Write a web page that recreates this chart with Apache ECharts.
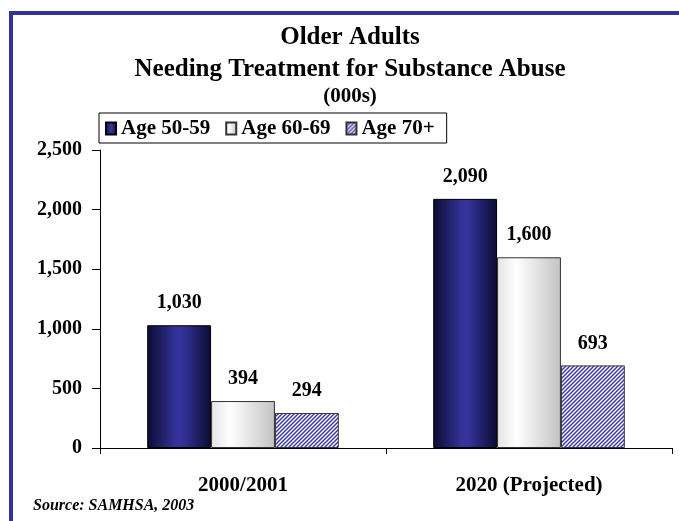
<!DOCTYPE html>
<html>
<head>
<meta charset="utf-8">
<script src="https://cdn.jsdelivr.net/npm/echarts@6/dist/echarts.min.js"></script>
<style>
  html, body { margin: 0; padding: 0; background: #fff; }
  #chart { width: 679px; height: 521px; }
</style>
</head>
<body>
<div id="chart"></div>
<script>
// Periods shown on the category axis
const periods = ['2000/2001', '2020 (Projected)'];
// Older adults needing treatment, in thousands
const age5059 = [1030, 2090];
const age6069 = [394, 1600];
const age70plus = [294, 693];
const seriesNames = ['Age 50-59', 'Age 60-69', 'Age 70+'];
const yTicks = [0, 500, 1000, 1500, 2000, 2500];
const titleLines = ['Older Adults', 'Needing Treatment for Substance Abuse', '(000s)'];

const serif = '"Liberation Serif", "Times New Roman", serif';

// Diagonal hatch fill for the oldest group
function hatchPattern() {
  const s = 4;
  const c = document.createElement('canvas');
  c.width = s; c.height = s;
  const g = c.getContext('2d');
  g.fillStyle = '#ffffff';
  g.fillRect(0, 0, s, s);
  g.strokeStyle = '#3535a5';
  g.lineWidth = 1.4;
  g.beginPath();
  g.moveTo(-1, s + 1); g.lineTo(s + 1, -1);
  g.moveTo(-1, 1); g.lineTo(1, -1);
  g.moveTo(s - 1, s + 1); g.lineTo(s + 1, s - 1);
  g.stroke();
  return c;
}

const navyFill = new echarts.graphic.LinearGradient(0, 0, 1, 0, [
  { offset: 0, color: '#0b0b33' },
  { offset: 0.45, color: '#333399' },
  { offset: 0.55, color: '#333399' },
  { offset: 1, color: '#0b0b33' }
]);
const greyFill = new echarts.graphic.LinearGradient(0, 0, 1, 0, [
  { offset: 0, color: '#e4e4e4' },
  { offset: 0.3, color: '#ffffff' },
  { offset: 1, color: '#c2c2c2' }
]);

const labelStyle = {
  show: true,
  position: 'top',
  distance: 12,
  fontFamily: serif,
  fontWeight: 'bold',
  fontSize: 20,
  color: '#000',
  formatter: p => p.value.toLocaleString('en-US')
};

function titleText(text, y, size) {
  return {
    type: 'text', x: 350, y: y,
    style: { text: text, font: 'bold ' + size + 'px ' + serif, fill: '#000',
             align: 'center', verticalAlign: 'middle' }
  };
}

const chart = echarts.init(document.getElementById('chart'));
chart.setOption({
  animation: false,
  backgroundColor: '#fff',
  legend: {
    data: seriesNames,
    icon: 'rect',
    left: 99, top: 113,
    padding: [5, 12, 4, 6],
    itemWidth: 10, itemHeight: 12, itemGap: 15,
    borderColor: '#000', borderWidth: 1,
    textStyle: { fontFamily: serif, fontWeight: 'bold', fontSize: 21, color: '#000', padding: [0, 0, 0, 0] }
  },
  grid: { left: 100, right: 7, top: 150, bottom: 73 },
  xAxis: {
    type: 'category',
    data: periods,
    axisLine: { lineStyle: { color: '#000', width: 1 } },
    axisTick: { show: true, length: 6, lineStyle: { color: '#000' } },
    axisLabel: { margin: 27, fontFamily: serif, fontWeight: 'bold', fontSize: 21, color: '#000' }
  },
  yAxis: {
    type: 'value',
    min: yTicks[0], max: yTicks[yTicks.length - 1], interval: 500,
    splitLine: { show: false },
    axisLine: { show: true, lineStyle: { color: '#000', width: 1 } },
    axisTick: { show: true, length: 8, lineStyle: { color: '#000' } },
    axisLabel: {
      margin: 18, fontFamily: serif, fontWeight: 'bold', fontSize: 20, color: '#000',
      formatter: v => v.toLocaleString('en-US')
    }
  },
  series: [
    { name: seriesNames[0], type: 'bar', data: age5059, barGap: '0%', barCategoryGap: '33%',
      itemStyle: { color: navyFill, borderColor: '#000', borderWidth: 1 }, label: labelStyle },
    { name: seriesNames[1], type: 'bar', data: age6069,
      itemStyle: { color: greyFill, borderColor: '#333', borderWidth: 1 }, label: labelStyle },
    { name: seriesNames[2], type: 'bar', data: age70plus,
      itemStyle: { color: { image: hatchPattern(), repeat: 'repeat' }, borderColor: '#333', borderWidth: 1 },
      label: labelStyle }
  ],
  graphic: [
    // frame edges along the top and left
    { type: 'rect', shape: { x: 9, y: 11, width: 670, height: 4 }, style: { fill: '#333399' } },
    { type: 'rect', shape: { x: 9, y: 11, width: 4, height: 510 }, style: { fill: '#333399' } },
    titleText(titleLines[0], 38, 25),
    titleText(titleLines[1], 70, 25),
    titleText(titleLines[2], 97, 21),
    { type: 'text', left: 33, top: 498,
      style: { text: 'Source: SAMHSA, 2003', font: 'italic bold 16px ' + serif, fill: '#000' } }
  ]
});
</script>
</body>
</html>
